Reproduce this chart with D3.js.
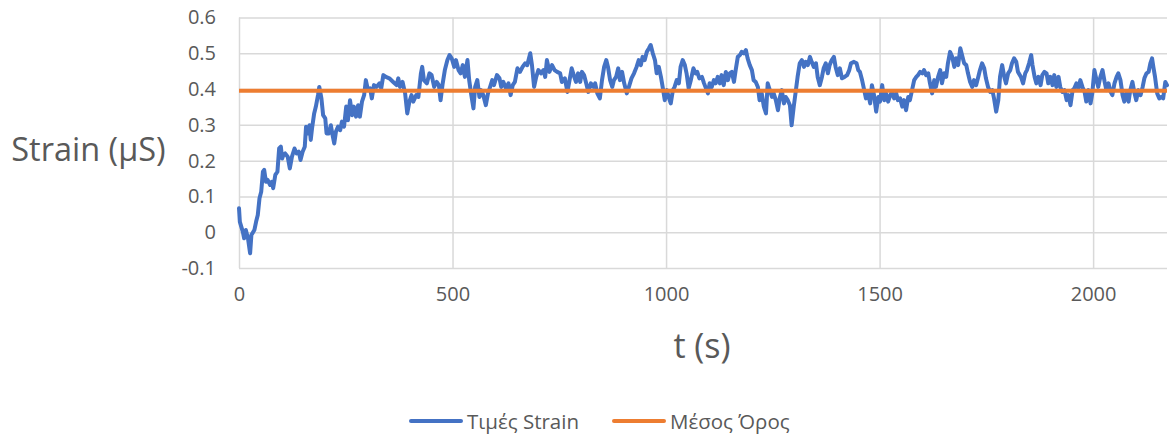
<!DOCTYPE html>
<html>
<head>
<meta charset="utf-8">
<script src="https://cdn.jsdelivr.net/npm/d3@7/dist/d3.min.js"></script>
<style>
  html, body { margin: 0; padding: 0; background: #ffffff; }
  svg { display: block; font-family: "Open Sans", "Noto Sans", sans-serif; }
</style>
</head>
<body>
<svg id="chart" width="1171" height="437"></svg>
<script>
// Time of each reading (s)
const timeSec = [
  0, 2, 9, 12, 16, 21, 26, 29, 36, 40, 44, 48, 52, 56, 59, 63, 67, 73, 77, 80,
  85, 90, 94, 98, 101, 104, 108, 114, 119, 124, 130, 135, 140, 144, 149, 154, 157, 162, 165, 168,
  171, 176, 180, 185, 188, 193, 197, 202, 205, 210, 215, 219, 223, 227, 232, 237, 241, 246, 251, 255,
  260, 265, 269, 274, 279, 283, 288, 293, 297, 302, 307, 311, 316, 322, 329, 333, 338, 344, 352, 361,
  369, 373, 377, 383, 389, 394, 399, 404, 408, 415, 420, 426, 429, 433, 440, 446, 451, 457, 463, 468,
  472, 477, 482, 488, 493, 498, 504, 508, 514, 519, 524, 529, 535, 539, 544, 549, 553, 558, 563, 567,
  572, 578, 583, 588, 593, 597, 604, 610, 614, 619, 625, 631, 636, 641, 646, 652, 658, 664, 670, 675,
  682, 686, 691, 696, 701, 707, 713, 717, 721, 727, 733, 739, 745, 752, 756, 763, 769, 774, 779, 785,
  789, 794, 799, 803, 808, 813, 818, 824, 830, 834, 839, 845, 850, 855, 860, 864, 869, 874, 878, 883,
  888, 892, 897, 902, 908, 913, 919, 925, 931, 936, 941, 945, 950, 955, 960, 964, 969, 974, 978, 983,
  988, 992, 997, 1002, 1006, 1011, 1016, 1020, 1025, 1030, 1034, 1039, 1044, 1048, 1053, 1058, 1064, 1069, 1073, 1078,
  1084, 1089, 1098, 1102, 1107, 1112, 1116, 1121, 1126, 1130, 1135, 1140, 1145, 1149, 1154, 1159, 1163, 1168, 1173, 1177,
  1182, 1187, 1191, 1196, 1201, 1205, 1210, 1215, 1219, 1224, 1229, 1234, 1238, 1243, 1248, 1252, 1257, 1262, 1266, 1271,
  1276, 1280, 1285, 1290, 1294, 1299, 1304, 1308, 1313, 1318, 1323, 1327, 1332, 1337, 1341, 1346, 1351, 1355, 1360, 1365,
  1369, 1374, 1379, 1383, 1388, 1393, 1397, 1402, 1407, 1412, 1418, 1424, 1429, 1433, 1440, 1446, 1450, 1454, 1459, 1464,
  1468, 1473, 1478, 1482, 1487, 1492, 1497, 1501, 1506, 1511, 1515, 1520, 1525, 1529, 1534, 1539, 1543, 1548, 1553, 1557,
  1562, 1567, 1571, 1576, 1581, 1586, 1590, 1595, 1600, 1604, 1609, 1614, 1618, 1623, 1628, 1632, 1637, 1642, 1646, 1651,
  1656, 1660, 1665, 1670, 1675, 1679, 1684, 1689, 1693, 1698, 1703, 1707, 1712, 1717, 1721, 1726, 1731, 1735, 1740, 1745,
  1749, 1754, 1759, 1764, 1768, 1773, 1778, 1782, 1787, 1792, 1796, 1801, 1806, 1810, 1815, 1820, 1824, 1831, 1836, 1841,
  1845, 1850, 1855, 1858, 1863, 1867, 1872, 1877, 1881, 1886, 1891, 1895, 1900, 1905, 1909, 1914, 1919, 1923, 1928, 1933,
  1938, 1942, 1947, 1952, 1956, 1961, 1966, 1970, 1975, 1980, 1984, 1989, 1994, 1998, 2003, 2008, 2012, 2017, 2022, 2027,
  2031, 2036, 2041, 2045, 2050, 2055, 2059, 2064, 2069, 2073, 2078, 2083, 2087, 2092, 2097, 2101, 2106, 2111, 2116, 2120,
  2125, 2130, 2134, 2138, 2141, 2145, 2150, 2155, 2159, 2164, 2169, 2173
];

// Measured strain (μS)
const strainValues = [
  0.067, 0.029, 0.001, -0.017, 0.006, -0.017, -0.059, -0.008, 0.006, 0.029, 0.048, 0.095, 0.113, 0.169, 0.174, 0.141, 0.146, 0.132, 0.141, 0.123,
  0.160, 0.169, 0.234, 0.239, 0.206, 0.216, 0.220, 0.211, 0.178, 0.211, 0.234, 0.220, 0.225, 0.202, 0.225, 0.239, 0.295, 0.276, 0.299, 0.258,
  0.290, 0.332, 0.351, 0.383, 0.406, 0.374, 0.327, 0.318, 0.276, 0.276, 0.299, 0.272, 0.248, 0.281, 0.295, 0.285, 0.309, 0.295, 0.351, 0.313,
  0.369, 0.327, 0.351, 0.323, 0.355, 0.323, 0.365, 0.383, 0.425, 0.397, 0.402, 0.374, 0.411, 0.406, 0.416, 0.402, 0.439, 0.434, 0.430, 0.420,
  0.411, 0.430, 0.406, 0.420, 0.388, 0.332, 0.365, 0.383, 0.365, 0.383, 0.378, 0.444, 0.462, 0.425, 0.416, 0.444, 0.439, 0.406, 0.420, 0.411,
  0.369, 0.416, 0.453, 0.481, 0.495, 0.486, 0.462, 0.481, 0.453, 0.444, 0.467, 0.434, 0.481, 0.425, 0.383, 0.346, 0.406, 0.425, 0.378, 0.397,
  0.383, 0.355, 0.388, 0.406, 0.425, 0.411, 0.439, 0.430, 0.406, 0.420, 0.402, 0.416, 0.383, 0.411, 0.420, 0.458, 0.448, 0.462, 0.472, 0.467,
  0.500, 0.467, 0.406, 0.434, 0.453, 0.444, 0.453, 0.434, 0.481, 0.448, 0.467, 0.453, 0.448, 0.444, 0.420, 0.430, 0.392, 0.425, 0.458, 0.434,
  0.420, 0.444, 0.420, 0.448, 0.439, 0.416, 0.392, 0.416, 0.406, 0.416, 0.388, 0.374, 0.425, 0.462, 0.481, 0.462, 0.425, 0.406, 0.425, 0.434,
  0.458, 0.425, 0.448, 0.416, 0.388, 0.406, 0.430, 0.444, 0.462, 0.481, 0.467, 0.490, 0.481, 0.504, 0.514, 0.523, 0.500, 0.481, 0.444, 0.462,
  0.434, 0.406, 0.369, 0.397, 0.378, 0.360, 0.397, 0.406, 0.425, 0.416, 0.462, 0.481, 0.467, 0.444, 0.402, 0.425, 0.458, 0.444, 0.448, 0.430,
  0.434, 0.416, 0.388, 0.416, 0.406, 0.425, 0.416, 0.434, 0.416, 0.439, 0.411, 0.448, 0.425, 0.444, 0.448, 0.420, 0.453, 0.490, 0.495, 0.504,
  0.500, 0.509, 0.486, 0.467, 0.453, 0.425, 0.420, 0.406, 0.369, 0.388, 0.351, 0.332, 0.416, 0.397, 0.378, 0.388, 0.369, 0.341, 0.374, 0.397,
  0.360, 0.378, 0.369, 0.355, 0.299, 0.351, 0.397, 0.434, 0.472, 0.481, 0.462, 0.476, 0.467, 0.490, 0.476, 0.462, 0.472, 0.434, 0.411, 0.434,
  0.458, 0.472, 0.444, 0.467, 0.481, 0.490, 0.462, 0.439, 0.458, 0.430, 0.434, 0.439, 0.453, 0.472, 0.476, 0.472, 0.453, 0.448, 0.425, 0.397,
  0.374, 0.388, 0.360, 0.411, 0.383, 0.337, 0.378, 0.365, 0.411, 0.369, 0.388, 0.365, 0.383, 0.392, 0.374, 0.388, 0.369, 0.374, 0.351, 0.369,
  0.341, 0.378, 0.369, 0.397, 0.425, 0.434, 0.439, 0.448, 0.444, 0.453, 0.439, 0.444, 0.416, 0.388, 0.425, 0.406, 0.434, 0.453, 0.416, 0.444,
  0.434, 0.472, 0.504, 0.490, 0.462, 0.486, 0.467, 0.514, 0.495, 0.472, 0.467, 0.444, 0.420, 0.406, 0.425, 0.411, 0.434, 0.453, 0.472, 0.458,
  0.430, 0.406, 0.392, 0.397, 0.374, 0.337, 0.369, 0.434, 0.467, 0.434, 0.416, 0.444, 0.453, 0.472, 0.486, 0.476, 0.448, 0.434, 0.416, 0.444,
  0.453, 0.472, 0.495, 0.467, 0.434, 0.416, 0.434, 0.411, 0.439, 0.448, 0.444, 0.416, 0.434, 0.411, 0.439, 0.406, 0.434, 0.406, 0.392, 0.397,
  0.369, 0.383, 0.355, 0.397, 0.402, 0.416, 0.402, 0.425, 0.406, 0.392, 0.365, 0.397, 0.360, 0.388, 0.453, 0.425, 0.406, 0.434, 0.453, 0.420,
  0.397, 0.416, 0.392, 0.383, 0.416, 0.434, 0.444, 0.425, 0.383, 0.365, 0.388, 0.365, 0.397, 0.420, 0.388, 0.369, 0.397, 0.383, 0.406, 0.430,
  0.444, 0.448, 0.472, 0.486, 0.462, 0.434, 0.388, 0.374, 0.378, 0.374, 0.420, 0.411
];

// Mean value (μS) over the whole recording
const meanStrain = 0.395;

const xTicks = [0, 500, 1000, 1500, 2000];
const xTickLabels = ["0", "500", "1000", "1500", "2000"];
const yTicks = [-0.1, 0, 0.1, 0.2, 0.3, 0.4, 0.5, 0.6];
const yTickLabels = ["-0.1", "0", "0.1", "0.2", "0.3", "0.4", "0.5", "0.6"];

const seriesNames = ["Τιμές Strain", "Μέσος Όρος"];
const seriesColors = ["#4472C4", "#ED7D31"];

const svg = d3.select("#chart");
const plot = { left: 239, right: 1167, top: 17.5, bottom: 268 };

const x = d3.scaleLinear().domain([0, 2173]).range([plot.left, plot.right]);
const y = d3.scaleLinear().domain([-0.1, 0.6]).range([plot.bottom, plot.top]);

const textColor = "#595959";
const gridColor = "#D9D9D9";

// Horizontal gridlines
svg.append("g")
  .attr("transform", `translate(${plot.left},0)`)
  .call(d3.axisLeft(y).tickValues(yTicks).tickSize(-(plot.right - plot.left)).tickFormat(""))
  .call(g => g.select(".domain").remove())
  .call(g => g.selectAll("line").attr("stroke", gridColor).attr("stroke-width", 1.5));

// Vertical gridlines
svg.append("g")
  .attr("transform", `translate(0,${plot.bottom})`)
  .call(d3.axisBottom(x).tickValues(xTicks).tickSize(-(plot.bottom - plot.top)).tickFormat(""))
  .call(g => g.select(".domain").remove())
  .call(g => g.selectAll("line").attr("stroke", gridColor).attr("stroke-width", 1.5));

// Y tick labels
svg.append("g")
  .attr("transform", `translate(${plot.left},0)`)
  .call(d3.axisLeft(y).tickValues(yTicks).tickSize(0).tickPadding(23)
    .tickFormat((d, i) => yTickLabels[i]))
  .call(g => g.select(".domain").remove())
  .call(g => g.selectAll("text")
    .attr("fill", textColor)
    .style("font-size", "20px")
    .style("font-family", "'Open Sans', sans-serif"));

// X tick labels
svg.append("g")
  .attr("transform", `translate(0,${plot.bottom})`)
  .call(d3.axisBottom(x).tickValues(xTicks).tickSize(0).tickPadding(19)
    .tickFormat((d, i) => xTickLabels[i]))
  .call(g => g.select(".domain").remove())
  .call(g => g.selectAll("text")
    .attr("fill", textColor)
    .style("font-size", "20px")
    .style("font-family", "'Open Sans', sans-serif"));

// Axis titles
svg.append("text")
  .attr("x", 88.5).attr("y", 148)
  .attr("text-anchor", "middle").attr("dominant-baseline", "central")
  .attr("fill", textColor)
  .style("font-size", "32.5px")
  .text("Strain (μS)");

svg.append("text")
  .attr("x", 702).attr("y", 345)
  .attr("text-anchor", "middle").attr("dominant-baseline", "central")
  .attr("fill", textColor)
  .style("font-size", "34px")
  .text("t (s)");

// Strain series
const points = timeSec.map((t, i) => [t, strainValues[i]]);
const line = d3.line().x(d => x(d[0])).y(d => y(d[1]));

svg.append("path")
  .datum(points)
  .attr("fill", "none")
  .attr("stroke", seriesColors[0])
  .attr("stroke-width", 4)
  .attr("stroke-linejoin", "round")
  .attr("stroke-linecap", "round")
  .attr("d", line);

// Mean line
const meanPoints = [[0, meanStrain], [2173, meanStrain]];
svg.append("path")
  .datum(meanPoints)
  .attr("fill", "none")
  .attr("stroke", seriesColors[1])
  .attr("stroke-width", 4)
  .attr("d", line);

// Legend
const legend = svg.append("g").attr("transform", "translate(0,421)");
const legendItems = [
  { x: 411, name: seriesNames[0], color: seriesColors[0] },
  { x: 614, name: seriesNames[1], color: seriesColors[1] }
];
legendItems.forEach(item => {
  legend.append("line")
    .attr("x1", item.x).attr("x2", item.x + 50)
    .attr("y1", 0).attr("y2", 0)
    .attr("stroke", item.color).attr("stroke-width", 4)
    .attr("stroke-linecap", "round");
  legend.append("text")
    .attr("x", item.x + 56).attr("y", 0)
    .attr("dominant-baseline", "central")
    .attr("fill", textColor)
    .style("font-size", "20.5px")
    .text(item.name);
});
</script>
</body>
</html>
